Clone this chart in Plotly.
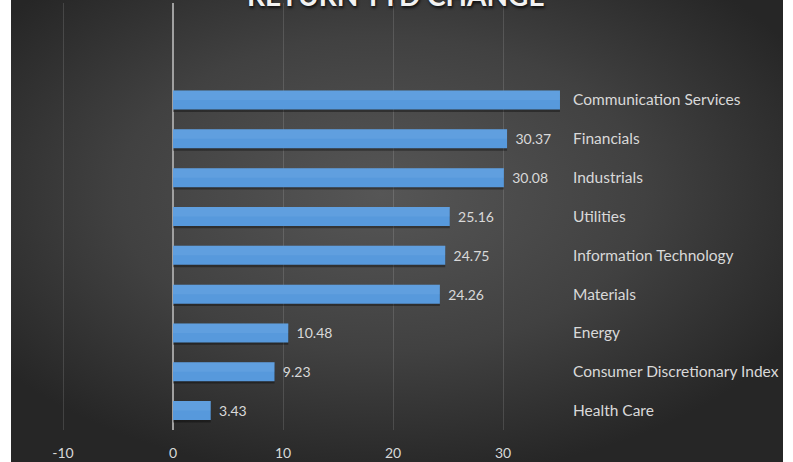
import base64
import plotly.graph_objects as go

# ---- data (bottom to top) ----
categories = [
    "Health Care",
    "Consumer Discretionary Index",
    "Energy",
    "Materials",
    "Information Technology",
    "Utilities",
    "Industrials",
    "Financials",
    "Communication Services",
]
values = [3.43, 9.23, 10.48, 24.26, 24.75, 25.16, 30.08, 30.37, 35.18]
x_ticks = [-10, 0, 10, 20, 30]
title_text = "RETURN YTD CHANGE"

W, H = 793, 462
L, R, T, B = 12, 233, 3, 32
pw, ph = W - L - R, H - T - B

FONT = "Lato, 'Open Sans', sans-serif"
TXT = "#d9d9d9"

# radial gradient background as svg data uri
svg = """<svg xmlns='http://www.w3.org/2000/svg' width='771' height='462'>
<defs><radialGradient id='g' cx='48%' cy='42%' r='62%'>
<stop offset='0%' stop-color='#565656'/>
<stop offset='55%' stop-color='#414141'/>
<stop offset='100%' stop-color='#262626'/>
</radialGradient></defs>
<rect width='771' height='462' fill='url(#g)'/></svg>"""
src = "data:image/svg+xml;base64," + base64.b64encode(svg.encode()).decode()

x_left = (L - 173) / 11.0
x_right = (560 - 173) / 11.0
BW = 0.49

# value label hidden where the bar reaches the axis end (as in the reference)
labels = ["\u00a0\u2009" + f"{v:.2f}" if v < x_right - 1e-6 else "" for v in values]

fig = go.Figure()
# soft shadow
fig.add_trace(go.Bar(
    y=categories, x=values, orientation="h",
    width=BW, offset=-BW / 2 - 0.06,
    marker=dict(color="rgba(0,0,0,0.35)", line=dict(width=0)),
    hoverinfo="skip", cliponaxis=True,
))
# bar with labels
fig.add_trace(go.Bar(
    y=categories, x=values, orientation="h",
    width=BW, offset=-BW / 2,
    marker=dict(color="#5799dc", line=dict(width=0)),
    text=labels,
    textposition="outside",
    textfont=dict(family=FONT, size=14, color=TXT),
    cliponaxis=True, hoverinfo="skip",
))
# subtle lighter top half
fig.add_trace(go.Bar(
    y=categories, x=values, orientation="h",
    width=BW * 0.5, offset=0,
    marker=dict(color="rgba(140,190,240,0.18)", line=dict(width=0)),
    hoverinfo="skip", cliponaxis=True,
))

fig.update_layout(
    width=W, height=H,
    barmode="overlay",
    margin=dict(l=L, r=R, t=T, b=B, autoexpand=False),
    paper_bgcolor="#ffffff",
    plot_bgcolor="rgba(0,0,0,0)",
    showlegend=False,
    xaxis=dict(
        range=[x_left, x_right],
        tickvals=x_ticks,
        ticktext=[str(v) for v in x_ticks],
        showgrid=True, gridcolor="rgba(255,255,255,0.13)", gridwidth=1,
        zeroline=True, zerolinecolor="#a0a0a0", zerolinewidth=1.5,
        ticks="outside", ticklen=10, tickcolor="rgba(0,0,0,0)",
        tickfont=dict(family=FONT, size=14, color=TXT),
        showline=False, fixedrange=True,
    ),
    yaxis=dict(
        type="category",
        categoryorder="array", categoryarray=categories,
        range=[-0.5, 10.5],
        side="right",
        showgrid=False, zeroline=False, showline=False,
        ticks="", ticklabelstandoff=12,
        tickfont=dict(family=FONT, size=15.5, color=TXT),
        fixedrange=True,
    ),
    images=[dict(
        source=src, xref="paper", yref="paper",
        x=(11 - L) / pw, y=1 + T / ph,
        sizex=(783 - 11) / pw, sizey=H / ph,
        xanchor="left", yanchor="top", sizing="stretch", layer="below",
    )],
    annotations=[dict(
        text=f"<b>{title_text}</b>", xref="paper", yref="paper",
        x=(396 - L) / pw, y=1 - (14 - T) / ph, xanchor="center", yanchor="bottom",
        showarrow=False,
        font=dict(family=FONT, size=28, color="#f2f2f2",
                  shadow="1px 2px 3px rgba(0,0,0,0.8)"),
    )],
)

fig.write_html(
    "out.html",
    config={"displayModeBar": False, "staticPlot": True},
    post_script="document.body.style.margin='0';document.body.style.overflow='hidden';",
)
